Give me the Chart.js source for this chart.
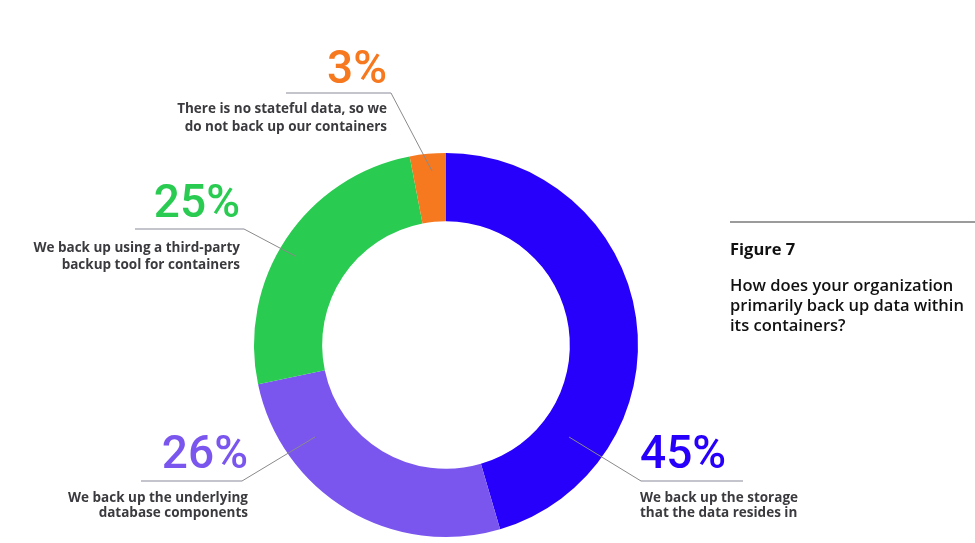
<!DOCTYPE html>
<html>
<head>
<meta charset="utf-8">
<script src="https://cdn.jsdelivr.net/npm/chart.js@4/dist/chart.umd.min.js"></script>
<style>
  html, body { margin: 0; padding: 0; background: #ffffff; }
  #wrap { position: relative; width: 975px; height: 543px; }
  canvas { display: block; }
</style>
</head>
<body>
<div id="wrap"><canvas id="c" width="975" height="543"></canvas></div>
<script>
// ---- data ----
const categories = [
  "We back up the storage that the data resides in",
  "We back up the underlying database components",
  "We back up using a third-party backup tool for containers",
  "There is no stateful data, so we do not back up our containers"
];
const values = [45, 26, 25, 3];
const colors = ["#2700fb", "#7a56ef", "#29cb51", "#f6781f"];
const labelLines = [
  ["We back up the storage", "that the data resides in"],
  ["We back up the underlying", "database components"],
  ["We back up using a third-party", "backup tool for containers"],
  ["There is no stateful data, so we", "do not back up our containers"]
];
const figureTitle = "Figure 7";
const question = ["How does your organization", "primarily back up data within", "its containers?"];

// ---- annotation layout (callout positions) ----
const calloutLayout = [
  { align: "left",  x: 640, pctBase: 468, hy: 481, hx0: 641, hx1: 743, dx: 569, dy: 437, t1: 502, t2: 517 },
  { align: "right", x: 248, pctBase: 468, hy: 481, hx0: 141, hx1: 242, dx: 315, dy: 437, t1: 502, t2: 517 },
  { align: "right", x: 240, pctBase: 217, hy: 229, hx0: 135, hx1: 244, dx: 295, dy: 256, t1: 252, t2: 269 },
  { align: "right", x: 387, pctBase: 83,  hy: 93,  hx0: 286, hx1: 391, dx: 432, dy: 171, t1: 113, t2: 131 }
];

const annotations = {
  id: "annotations",
  afterDraw(chart) {
    const ctx = chart.ctx;
    ctx.save();
    values.forEach((v, i) => {
      const L = calloutLayout[i];
      ctx.strokeStyle = "#c4c4cc";
      ctx.lineWidth = 2;
      ctx.beginPath();
      ctx.moveTo(L.hx0, L.hy); ctx.lineTo(L.hx1, L.hy); ctx.stroke();
      ctx.strokeStyle = "#8a8a8a";
      ctx.lineWidth = 1;
      ctx.beginPath();
      const cx = L.align === "left" ? L.hx0 : L.hx1;
      ctx.moveTo(cx, L.hy); ctx.lineTo(L.dx, L.dy); ctx.stroke();
      ctx.fillStyle = colors[i];
      ctx.textAlign = L.align;
      ctx.textBaseline = "alphabetic";
      ctx.font = "500 46px Roboto, Lato, sans-serif";
      ctx.fillText(v + "%", L.x, L.pctBase);
      ctx.fillStyle = "#3b3b3f";
      ctx.font = "bold 13.5px 'Open Sans', Lato, sans-serif";
      ctx.fillText(labelLines[i][0], L.x, L.t1);
      ctx.fillText(labelLines[i][1], L.x, L.t2);
    });
    ctx.strokeStyle = "#7a7a7a";
    ctx.lineWidth = 1.5;
    ctx.beginPath(); ctx.moveTo(730, 222); ctx.lineTo(975, 222); ctx.stroke();
    ctx.fillStyle = "#111111";
    ctx.textAlign = "left";
    ctx.font = "bold 16.5px 'Open Sans', Lato, sans-serif";
    ctx.fillText(figureTitle, 730, 255);
    ctx.font = "600 16.5px 'Open Sans', Lato, sans-serif";
    question.forEach((q, k) => ctx.fillText(q, 730, 291 + k * 20));
    ctx.restore();
  }
};

new Chart(document.getElementById("c"), {
  type: "doughnut",
  data: {
    labels: categories,
    datasets: [{
      data: values,
      backgroundColor: colors,
      borderWidth: 0,
      hoverOffset: 0
    }]
  },
  options: {
    responsive: false,
    animation: false,
    cutout: "64.5%",
    rotation: 0,
    layout: { padding: { left: 254, right: 337, top: 153, bottom: 6 } },
    plugins: { legend: { display: false }, tooltip: { enabled: false } }
  },
  plugins: [annotations]
});
</script>
</body>
</html>
